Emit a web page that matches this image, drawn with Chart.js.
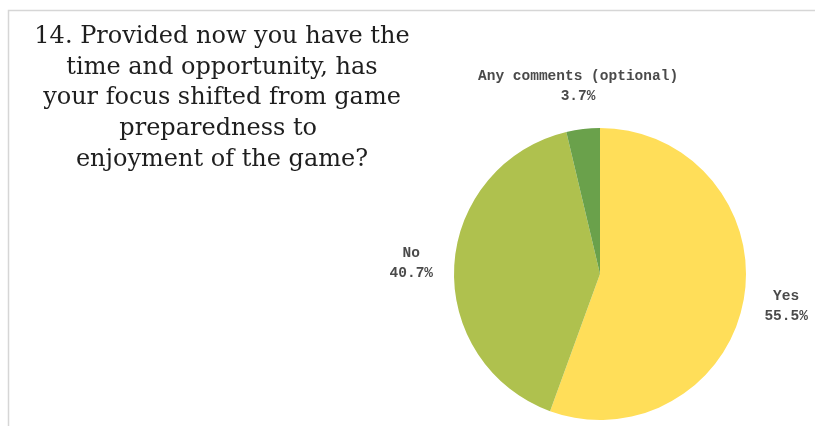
<!DOCTYPE html>
<html>
<head>
<meta charset="utf-8">
<script src="https://cdn.jsdelivr.net/npm/chart.js@4/dist/chart.umd.min.js"></script>
<style>
    html, body { margin: 0; padding: 0; background: #fff; }
    canvas { display: block; }
</style>
</head>
<body>
<canvas id="focusChart" width="815" height="426"></canvas>
<script>

const categories = ["Yes", "No", "Any comments (optional)"];
const shares = [55.5, 40.7, 3.7];
const sliceColours = ["#FFDE59", "#AFC14E", "#6AA14B"];

const titleLines = [
    "14. Provided now you have the",
    "time and opportunity, has",
    "your focus shifted from game",
    "preparedness to ",
    "enjoyment of the game?"
];

// frame and question text behind the pie
const questionPlugin = {
    id: "question",
    beforeDraw(chart){
        const ctx = chart.ctx;
        ctx.save();

        ctx.strokeStyle = "#d6d6d6";
        ctx.lineWidth = 1.5;
        ctx.beginPath();
        ctx.moveTo(8.5, 426);
        ctx.lineTo(8.5, 10.5);
        ctx.lineTo(815, 10.5);
        ctx.stroke();

        ctx.fillStyle = "#1e1e1e";
        ctx.font = "24px 'DejaVu Serif'";
        ctx.textAlign = "center";
        ctx.textBaseline = "middle";
        titleLines.forEach((line, i) => {
            ctx.fillText(line, 222, 36.5 + i * 30.8);
        });

        ctx.restore();
    }
};

// category name and percentage outside each slice
const outsideLabels = {
    id: "outsideLabels",
    afterDatasetsDraw(chart){
        const ctx = chart.ctx;
        const arcs = chart.getDatasetMeta(0).data;
        ctx.save();
        ctx.fillStyle = "#4a4a4a";
        ctx.font = "bold 14.5px 'Liberation Mono'";
        ctx.textAlign = "center";
        ctx.textBaseline = "middle";
        arcs.forEach((arc, i) => {
            const mid = (arc.startAngle + arc.endAngle) / 2;
            const r = arc.outerRadius + 43;
            const x = arc.x + Math.cos(mid) * r;
            const y = arc.y + Math.sin(mid) * r;
            ctx.fillText(categories[i], x, y - 10);
            ctx.fillText(shares[i].toFixed(1) + "%", x, y + 10);
        });
        ctx.restore();
    }
};

new Chart(document.getElementById("focusChart"), {

    type: "pie",

    data: {
        labels: categories,
        datasets: [{
            data: shares,
            backgroundColor: sliceColours,
            borderWidth: 0
        }]
    },

    options: {
        responsive: false,
        devicePixelRatio: 1,
        animation: false,
        layout: {
            padding: { left: 454, right: 69, top: 128, bottom: 6 }
        },
        plugins: {
            legend: { display: false },
            tooltip: { enabled: false }
        }
    },

    plugins: [questionPlugin, outsideLabels]

});

</script>
</body>
</html>
